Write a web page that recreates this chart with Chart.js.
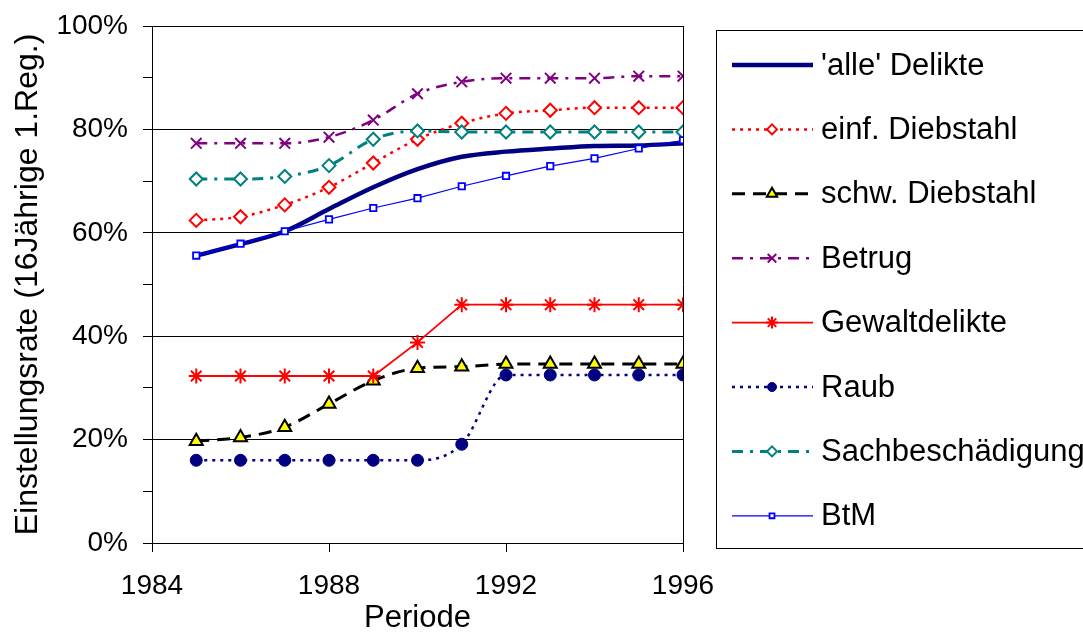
<!DOCTYPE html>
<html>
<head>
<meta charset="utf-8">
<script src="https://cdn.jsdelivr.net/npm/chart.js@4/dist/chart.umd.min.js"></script>
<style>
  html, body { margin: 0; padding: 0; background: #ffffff; }
  #wrap { width: 1083px; height: 634px; }
</style>
</head>
<body>
<div id="wrap"><canvas id="c" width="1083" height="634"></canvas></div>
<script>
// Einstellungsraten nach Deliktsgruppen, 16-Jährige, 1. Registrierung
const years = [1985, 1986, 1987, 1988, 1989, 1990, 1991, 1992, 1993, 1994, 1995, 1996];

const alleDelikte      = [55.6, 57.8, 60.3, 64.6, 68.8, 72.3, 74.7, 75.7, 76.3, 76.8, 76.9, 77.3];
const einfDiebstahl    = [62.4, 63.1, 65.4, 68.8, 73.5, 78.1, 81.2, 83.1, 83.7, 84.2, 84.2, 84.2];
const schwDiebstahl    = [19.7, 20.4, 22.4, 26.9, 31.4, 33.8, 34.1, 34.6, 34.6, 34.6, 34.6, 34.6];
const betrug           = [77.3, 77.3, 77.3, 78.5, 81.8, 86.9, 89.2, 89.9, 89.9, 89.9, 90.3, 90.3];
const gewaltdelikte    = [32.3, 32.3, 32.3, 32.3, 32.3, 38.8, 46.1, 46.1, 46.1, 46.1, 46.1, 46.1];
const raub             = [16.0, 16.0, 16.0, 16.0, 16.0, 16.0, 19.1, 32.5, 32.5, 32.5, 32.5, 32.5];
const sachbeschaedigung= [70.4, 70.4, 70.9, 73.0, 78.1, 79.7, 79.5, 79.5, 79.5, 79.5, 79.5, 79.5];
const btm              = [55.6, 57.9, 60.3, 62.6, 64.8, 66.7, 69.0, 71.0, 72.9, 74.4, 76.3, 77.9];

const xTicks = [1984, 1988, 1992, 1996];
const yTickLabels = ['0%', '20%', '40%', '60%', '80%', '100%'];

const FONT = '"Liberation Sans", Arial, Helvetica, sans-serif';

const pts = arr => arr.map((v, i) => ({ x: years[i], y: v }));

const datasets = [
  { label: "'alle' Delikte", data: pts(alleDelikte), borderColor: '#000080', borderWidth: 4.5,
    borderDash: [], pointRadius: 0, pointStyle: false, cubicInterpolationMode: 'monotone', order: 8 },
  { label: 'einf. Diebstahl', data: pts(einfDiebstahl), borderColor: '#ff0000', borderWidth: 2.5,
    borderDash: [3, 5], pointStyle: 'rectRot', pointRadius: 6.5, pointBorderWidth: 2,
    pointBackgroundColor: '#ffffff', pointBorderColor: '#ff0000', cubicInterpolationMode: 'monotone', order: 7 },
  { label: 'schw. Diebstahl', data: pts(schwDiebstahl), borderColor: '#000000', borderWidth: 3,
    borderDash: [13, 8], pointStyle: 'triangle', pointRadius: 7.5, pointBorderWidth: 2,
    pointBackgroundColor: '#ffff00', pointBorderColor: '#000000', cubicInterpolationMode: 'monotone', order: 6 },
  { label: 'Betrug', data: pts(betrug), borderColor: '#800080', borderWidth: 2.5,
    borderDash: [11, 7, 3, 7], pointStyle: 'crossRot', pointRadius: 7.5, pointBorderWidth: 2,
    pointBackgroundColor: '#800080', pointBorderColor: '#800080', cubicInterpolationMode: 'monotone', order: 5 },
  { label: 'Gewaltdelikte', data: pts(gewaltdelikte), borderColor: '#ff0000', borderWidth: 1.8,
    borderDash: [], pointStyle: 'star', pointRadius: 7.5, pointBorderWidth: 2,
    pointBackgroundColor: '#ff0000', pointBorderColor: '#ff0000', tension: 0, order: 4 },
  { label: 'Raub', data: pts(raub), borderColor: '#000080', borderWidth: 2.5,
    borderDash: [3, 5], pointStyle: 'circle', pointRadius: 6, pointBorderWidth: 1,
    pointBackgroundColor: '#000080', pointBorderColor: '#000080', cubicInterpolationMode: 'monotone', order: 3 },
  { label: 'Sachbeschädigung', data: pts(sachbeschaedigung), borderColor: '#008080', borderWidth: 3,
    borderDash: [11, 7, 3, 7], pointStyle: 'rectRot', pointRadius: 6.5, pointBorderWidth: 2,
    pointBackgroundColor: '#ffffff', pointBorderColor: '#008080', cubicInterpolationMode: 'monotone', order: 2 },
  { label: 'BtM', data: pts(btm), borderColor: '#0000ff', borderWidth: 1.2,
    borderDash: [], pointStyle: 'rect', pointRadius: 4.5, pointBorderWidth: 1.8,
    pointBackgroundColor: '#ffffff', pointBorderColor: '#0000ff', tension: 0, order: 1 }
];
datasets.forEach(d => { d.fill = false; d.backgroundColor = d.pointBackgroundColor || d.borderColor; });

// Boxed legend to the right of the plot, each entry with its line sample and marker
const sideLegend = {
  id: 'sideLegend',
  afterDraw(chart) {
    const ctx = chart.ctx;
    const boxL = 716.5, boxT = 30.5, boxB = 548.5, boxR = 1100;
    ctx.save();
    ctx.strokeStyle = '#000000';
    ctx.lineWidth = 1;
    ctx.strokeRect(boxL, boxT, boxR - boxL, boxB - boxT);
    const x0 = 732, x1 = 813, xm = 772, xt = 821;
    const y0 = 65, dy = 64.4;
    chart.data.datasets.forEach((ds, i) => {
      const y = y0 + i * dy;
      ctx.save();
      ctx.strokeStyle = ds.borderColor;
      ctx.lineWidth = ds.borderWidth;
      ctx.setLineDash(ds.borderDash || []);
      ctx.beginPath();
      ctx.moveTo(x0, y);
      ctx.lineTo(x1, y);
      ctx.stroke();
      ctx.restore();
      if (ds.pointStyle) {
        ctx.save();
        ctx.setLineDash([]);
        ctx.fillStyle = ds.pointBackgroundColor;
        ctx.strokeStyle = ds.pointBorderColor;
        ctx.lineWidth = ds.pointBorderWidth;
        Chart.helpers.drawPoint(ctx, {
          pointStyle: ds.pointStyle,
          radius: Math.max(3.5, ds.pointRadius - 1.5),
          borderWidth: ds.pointBorderWidth,
          rotation: 0
        }, xm, y);
        ctx.restore();
      }
      ctx.fillStyle = '#000000';
      ctx.font = '31px ' + FONT;
      ctx.textAlign = 'left';
      ctx.textBaseline = 'middle';
      ctx.fillText(ds.label, xt, y + 1);
    });
    ctx.restore();
  }
};

const whiteBg = {
  id: 'whiteBg',
  beforeDraw(chart) {
    const ctx = chart.ctx;
    ctx.save();
    ctx.fillStyle = '#ffffff';
    ctx.fillRect(0, 0, chart.width, chart.height);
    ctx.restore();
  }
};

new Chart(document.getElementById('c'), {
  type: 'line',
  data: { datasets },
  options: {
    responsive: false,
    animation: false,
    devicePixelRatio: 1,
    layout: { padding: { top: 26, left: 0, right: 400, bottom: 0 } },
    plugins: { legend: { display: false }, tooltip: { enabled: false } },
    elements: { line: { borderCapStyle: 'butt' } },
    scales: {
      x: {
        type: 'linear',
        min: xTicks[0],
        max: xTicks[xTicks.length - 1],
        afterBuildTicks: s => { s.ticks = xTicks.map(v => ({ value: v })); },
        afterFit: s => { s.height = 91; s.paddingLeft = 0; s.paddingRight = 0; },
        ticks: {
          color: '#000000',
          font: { family: FONT, size: 28 },
          padding: 17,
          maxRotation: 0,
          callback: v => String(v)
        },
        grid: {
          drawOnChartArea: true,
          color: c => (c.tick && c.tick.value === 1996 ? '#000000' : 'rgba(0,0,0,0)'),
          tickColor: '#000000',
          tickLength: 9,
          lineWidth: 1
        },
        border: { display: true, color: '#000000', width: 1 },
        title: {
          display: true,
          text: 'Periode',
          color: '#000000',
          font: { family: FONT, size: 31, lineHeight: 1 },
          padding: { top: 0, bottom: 0 }
        }
      },
      y: {
        min: 0,
        max: 100,
        afterFit: s => { s.width = 152; s.paddingTop = 0; s.paddingBottom = 0; },
        ticks: {
          stepSize: 10,
          color: '#000000',
          font: { family: FONT, size: 28 },
          padding: 15,
          callback: v => (v % 20 === 0 ? yTickLabels[v / 20] : '')
        },
        grid: {
          color: c => (c.tick && c.tick.value % 20 === 0 && c.tick.value > 0 ? '#000000' : 'rgba(0,0,0,0)'),
          tickColor: '#000000',
          tickLength: 9,
          lineWidth: 1
        },
        border: { display: true, color: '#000000', width: 1 },
        title: {
          display: true,
          text: 'Einstellungsrate (16Jährige 1.Reg.)',
          color: '#000000',
          font: { family: FONT, size: 32, lineHeight: 1 },
          padding: { top: 12, bottom: 0 }
        }
      }
    }
  },
  plugins: [whiteBg, sideLegend]
});
</script>
</body>
</html>
